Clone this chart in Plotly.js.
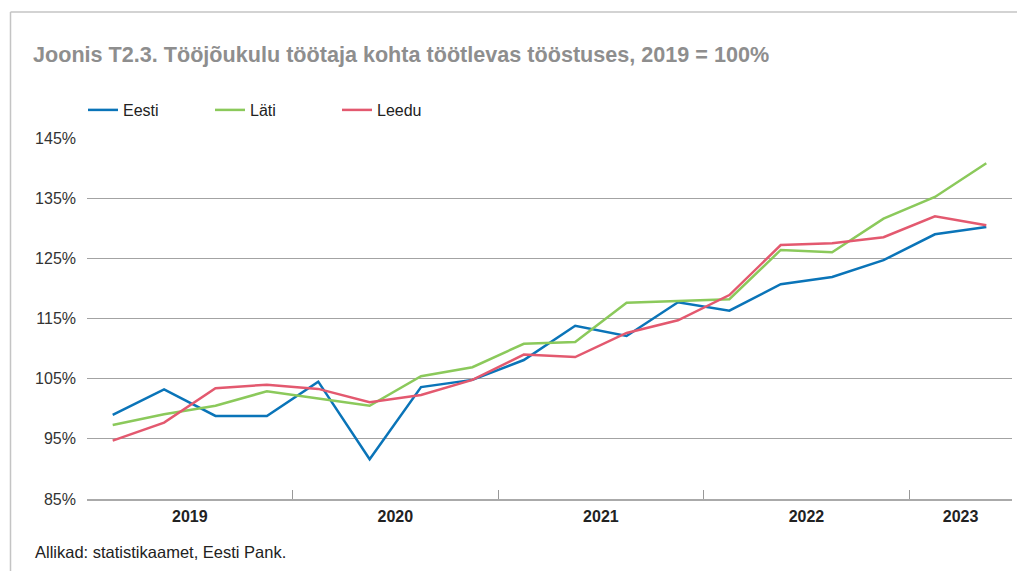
<!DOCTYPE html>
<html>
<head>
<meta charset="utf-8">
<script src="https://cdn.plot.ly/plotly-3.0.1.min.js"></script>
<style>html,body{margin:0;padding:0;background:#fff;}#chart{width:1017px;height:571px;}</style>
</head>
<body>
<div id="chart"></div>
<script>
// Quarters 2019Q1 .. 2023Q2
const quarters = ["2019Q1","2019Q2","2019Q3","2019Q4","2020Q1","2020Q2","2020Q3","2020Q4","2021Q1","2021Q2","2021Q3","2021Q4","2022Q1","2022Q2","2022Q3","2022Q4","2023Q1","2023Q2"];
const years = ["2019","2020","2021","2022","2023"];
const eesti = [99.0,103.2,98.8,98.8,104.5,91.6,103.6,104.8,108.1,113.8,112.1,117.7,116.3,120.7,121.9,124.7,129.0,130.2];
const lati  = [97.3,99.1,100.5,102.9,101.7,100.5,105.4,106.9,110.8,111.1,117.6,117.9,118.2,126.4,126.0,131.6,135.2,140.8];
const leedu = [94.7,97.7,103.4,104.0,103.3,101.1,102.3,104.8,109.0,108.6,112.6,114.7,118.9,127.2,127.5,128.5,132.0,130.5];
const yTicks = [85,95,105,115,125,135,145];

const xPos = quarters.map((q,i)=>i+0.5);
// year boundaries and centres derived from quarter list
const yearStart = years.map(y=>quarters.findIndex(q=>q.startsWith(y)));
const yearCount = years.map(y=>quarters.filter(q=>q.startsWith(y)).length);
const yearCentres = years.map((y,i)=>yearStart[i]+yearCount[i]/2);

const FONT = "Liberation Sans, Arial, Helvetica, sans-serif";
const mk = (name, y, color) => ({
  x: xPos, y: y, name: name, type: 'scatter', mode: 'lines',
  line: {color: color, width: 2.5}, hoverinfo: 'skip'
});
const traces = [
  mk('Eesti', eesti, '#0a74b8'),
  mk('Läti', lati, '#8bc95b'),
  mk('Leedu', leedu, '#e3596f'),
  {x: yearCentres, y: yearCentres.map(()=>null), xaxis: 'x2', showlegend: false, type: 'scatter', mode: 'lines', hoverinfo: 'skip'}
];

const L = 87, R = 1012, T = 138, B = 499;
const px2x = p => (p - L) / (R - L);
const py2y = p => (B - p) / (B - T);

const layout = {
  width: 1017, height: 571,
  margin: {l: L, r: 1017 - R, t: T, b: 571 - B},
  paper_bgcolor: '#fff', plot_bgcolor: '#fff',
  font: {family: FONT, size: 15, color: '#222'},
  showlegend: true,
  title: {
    text: 'Joonis T2.3. Tööjõukulu töötaja kohta töötlevas tööstuses, 2019 = 100%',
    x: 33/1017, xanchor: 'left', xref: 'container',
    y: 1 - 54/571, yanchor: 'middle', yref: 'container',
    font: {family: FONT, size: 21.6, color: '#8e8e8e', weight: 'bold'}
  },
  legend: {
    orientation: 'h', xref: 'container', yref: 'container',
    x: 83/1017, xanchor: 'left', y: 1 - 110/571, yanchor: 'middle',
    font: {family: FONT, size: 16, color: '#222'},
    entrywidth: 82, entrywidthmode: 'pixels', itemwidth: 30,
    bgcolor: 'rgba(0,0,0,0)'
  },
  xaxis: {
    range: [0, quarters.length], showgrid: false, zeroline: false,
    tickmode: 'array', tickvals: yearStart, ticktext: yearStart.map(()=>''),
    ticks: 'inside', ticklen: 9, tickcolor: '#999', tickwidth: 1,
    showline: true, linecolor: '#aaa', linewidth: 2, fixedrange: true
  },
  xaxis2: {
    overlaying: 'x', matches: 'x', range: [0, quarters.length],
    tickmode: 'array', tickvals: yearCentres, ticktext: years,
    ticks: '', showgrid: false, zeroline: false, showline: false,
    ticklabelstandoff: 6,
    tickfont: {family: FONT, size: 16, color: '#222', weight: 'bold'},
    side: 'bottom', anchor: 'y'
  },
  yaxis: {
    range: [85, 145], tickmode: 'array', tickvals: yTicks,
    ticktext: yTicks.map(v => v + '%'),
    showgrid: true, gridcolor: '#a3a3a3', gridwidth: 1,
    zeroline: false, showline: false, ticks: '',
    ticklabelstandoff: 10,
    tickfont: {family: FONT, size: 16, color: '#333'}, fixedrange: true
  },
  shapes: [
    {type: 'line', xref: 'paper', yref: 'paper', x0: px2x(10.5), x1: px2x(10.5), y0: py2y(12), y1: py2y(575), line: {color: '#c4c4c4', width: 1.5}},
    {type: 'line', xref: 'paper', yref: 'paper', x0: px2x(10.5), x1: px2x(1030), y0: py2y(12), y1: py2y(12), line: {color: '#c4c4c4', width: 1.5}}
  ],
  annotations: [
    {text: 'Allikad: statistikaamet, Eesti Pank.', xref: 'paper', yref: 'paper',
     x: px2x(33), y: py2y(552), xanchor: 'left', yanchor: 'middle', showarrow: false,
     font: {family: FONT, size: 16.5, color: '#222'}}
  ]
};

Plotly.newPlot('chart', traces, layout, {displayModeBar: false, staticPlot: true});
</script>
</body>
</html>
